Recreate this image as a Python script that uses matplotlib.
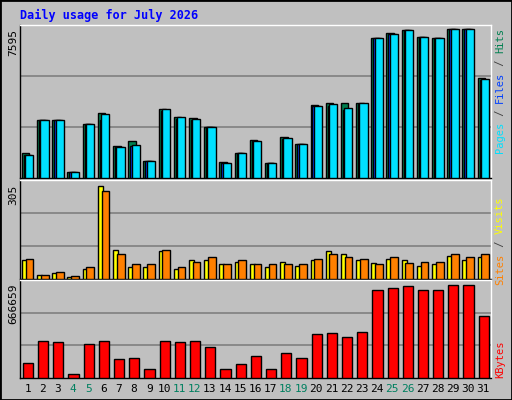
import matplotlib
matplotlib.use("Agg")
import matplotlib.pyplot as plt
from matplotlib.patches import Rectangle

days = list(range(1, 32))
weekend = [4, 5, 11, 12, 18, 19, 25, 26]
hits = [1254, 2955, 2955, 326, 2749, 3316, 1615, 1873, 893, 3522, 3110, 3059, 2595, 842, 1254, 1924,
        790, 2079, 1718, 3729, 3832, 3832, 3832, 7131, 7389, 7543, 7183, 7131, 7595, 7595, 5121]
files = [1200, 2955, 2955, 326, 2749, 2960, 1590, 1630, 893, 3400, 3020, 2960, 2595, 790, 1254, 1870,
         790, 2000, 1718, 3670, 3700, 3450, 3780, 7131, 7340, 7543, 7183, 7131, 7595, 7595, 5000]
pages = [1200, 2955, 2955, 326, 2749, 3265, 1564, 1667, 893, 3522, 3110, 3008, 2595, 790, 1254, 1873,
         790, 2030, 1718, 3678, 3780, 3575, 3832, 7131, 7337, 7543, 7183, 7131, 7595, 7595, 5070]
visits = [64, 14, 21, 8, 34, 305, 94, 41, 41, 91, 34, 64, 64, 48, 57, 48, 41, 57, 44, 61, 91, 81, 64,
          54, 67, 61, 44, 51, 77, 61, 71]
sites = [67, 14, 24, 11, 38, 290, 84, 48, 48, 94, 38, 57, 71, 51, 64, 48, 51, 51, 51, 67, 81, 74, 67,
         51, 71, 54, 57, 57, 84, 71, 81]
kbytes = [104620, 265200, 257900, 31630, 243300, 265200, 133800, 141100, 60830, 265200, 257900,
          265200, 221400, 60830, 97320, 155700, 60830, 177600, 141100, 316300, 323600, 294400,
          330900, 630200, 644800, 659400, 630200, 630200, 666659, 666659, 440400]

BG = "#C0C0C0"
fig = plt.figure(figsize=(5.12, 4.0), dpi=100, facecolor=BG)
fig.patches.append(Rectangle((0, 0), 1, 1, transform=fig.transFigure, fill=False, ec="black", lw=2))
mono = "DejaVu Sans Mono"

def mkax(top, bot):
    ax = fig.add_axes([20/512, (400-bot)/400, 471/512, (bot-top)/400])
    ax.set_facecolor(BG)
    ax.set_xlim(0.5, 31.5)
    ax.set_xticks([])
    ax.set_yticks([])
    for s in ax.spines.values():
        s.set_color("black")
        s.set_linewidth(1)
    ax.spines["top"].set_color("white")
    ax.spines["right"].set_color("white")
    return ax

def grid(ax, top):
    for f in (1/3, 2/3):
        ax.axhline(top*f, color="#808080", lw=1.2, zorder=0)

kw = dict(align="edge", edgecolor="black", linewidth=1, zorder=3)

ax1 = mkax(25, 178)
t1 = 7595*151.7/147.4
ax1.set_ylim(0, t1); grid(ax1, t1)
ax1.bar([d-0.38 for d in days], hits, width=0.5, color="#008050", **kw)
ax1.bar([d-0.25 for d in days], files, width=0.5, color="#0040FF", **kw)
ax1.bar([d-0.16 for d in days], pages, width=0.54, color="#00E0FF", **kw)

ax2 = mkax(180, 279)
t2 = 305*1.07
ax2.set_ylim(0, t2); grid(ax2, t2)
ax2.bar([d-0.38 for d in days], visits, width=0.33, color="#FFFF00", **kw)
ax2.bar([d-0.13 for d in days], sites, width=0.51, color="#FF8000", **kw)

ax3 = mkax(280, 378)
t3 = 666659*1.05
ax3.set_ylim(0, t3); grid(ax3, t3)
ax3.bar([d-0.31 for d in days], kbytes, width=0.67, color="#FF0000", **kw)

for d in days:
    ax3.text(d, -0.06, str(d), transform=ax3.get_xaxis_transform(), ha="center", va="top",
             fontsize=8, family=mono, color="#008060" if d in weekend else "black")

fig.text(20/512, 1-15/400, "Daily usage for July 2026", color="#0000FF", fontsize=8.5,
         family=mono, weight="bold", va="center")
for txt, y in (("7595", 29), ("305", 185), ("666659", 284)):
    fig.text(13/512, 1-y/400, txt, rotation=90, ha="center", va="top", fontsize=8, family=mono)

FS = 7.5
CH = FS * 0.602 * 100 / 72  # char advance in px

def rlabel(parts, ytop):
    y = ytop
    for txt, col in parts:
        fig.text(500/512, 1 - y/400, txt, rotation=90, ha="center", va="top", fontsize=FS,
                 family=mono, color=col)
        y += len(txt) * CH

rlabel([("Hits", "#008050"), (" / ", "#404040"), ("Files", "#0040FF"), (" / ", "#404040"),
        ("Pages", "#00E0FF")], 28)
rlabel([("Visits", "#FFFF00"), (" / ", "#404040"), ("Sites", "#FF8000")], 197)
rlabel([("KBytes", "#FF0000")], 340)

fig.savefig("out.png", dpi=100, facecolor=BG)
